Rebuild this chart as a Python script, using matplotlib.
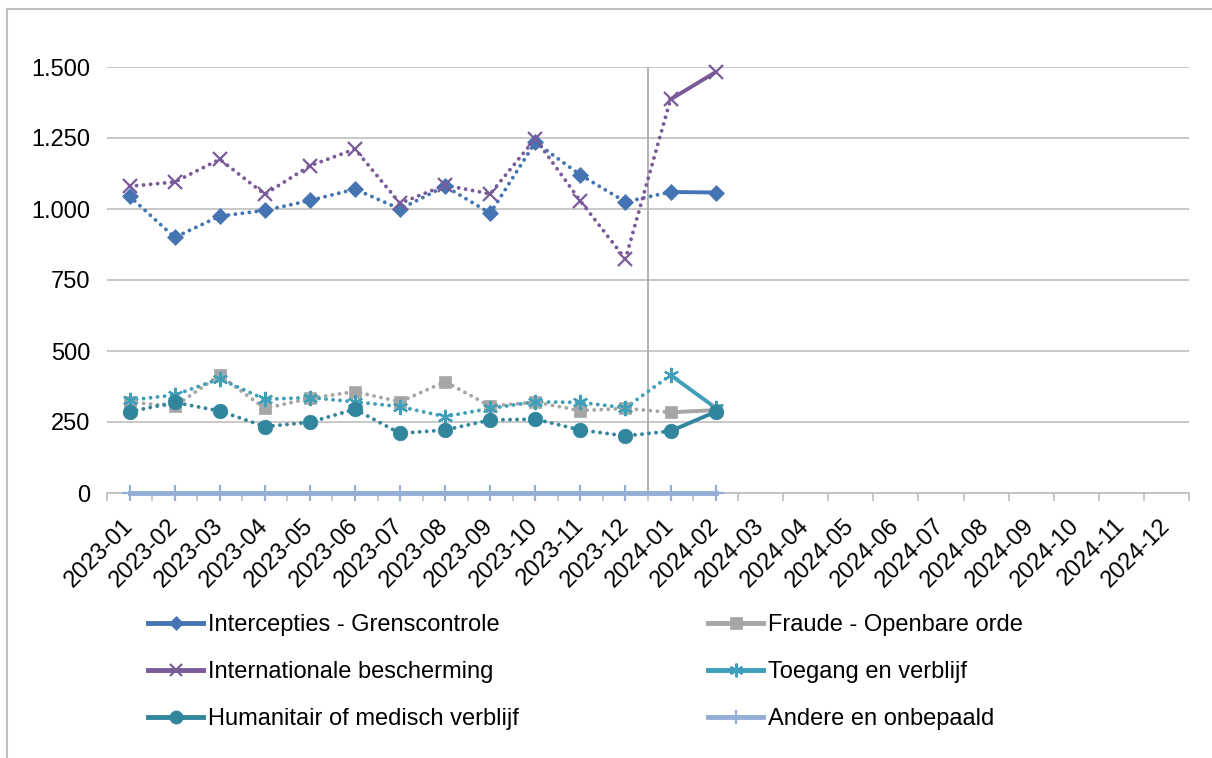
import matplotlib
matplotlib.use("Agg")
import matplotlib.pyplot as plt
from matplotlib.lines import Line2D
from matplotlib.ticker import FuncFormatter, FixedLocator
from matplotlib.transforms import ScaledTranslation
import numpy as np

plt.rcParams["font.family"] = ["Liberation Sans", "DejaVu Sans"]

months = [f"{y}-{m:02d}" for y in (2023, 2024) for m in range(1, 13)]

intercepties = [1045, 900, 975, 995, 1030, 1070, 1000, 1080, 985, 1235, 1120, 1025, 1060, 1058]
fraude = [320, 305, 415, 298, 333, 357, 321, 392, 306, 320, 290, 298, 284, 292]
internationale = [1080, 1095, 1175, 1052, 1152, 1211, 1020, 1084, 1053, 1248, 1028, 824, 1386, 1482]
toegang = [327, 345, 402, 330, 336, 321, 304, 269, 298, 321, 319, 300, 415, 300]
humanitair = [286, 319, 289, 234, 249, 295, 210, 222, 257, 260, 222, 201, 218, 286]
andere = [0] * 14

series = [
    ("Intercepties - Grenscontrole", intercepties, "#4474B2", "D", 8),
    ("Fraude - Openbare orde", fraude, "#A6A6A6", "s", 9),
    ("Internationale bescherming", internationale, "#7A5B9A", "x", 10),
    ("Toegang en verblijf", toegang, "#3F9FB8", (6, 2, 0), 11),
    ("Humanitair of medisch verblijf", humanitair, "#31859C", "o", 10.5),
    ("Andere en onbepaald", andere, "#95AED7", "+", 11),
]

fig = plt.figure(figsize=(12.12, 7.58), dpi=100)
ax = fig.add_axes([107 / 1212, 1 - 493 / 758, (1189 - 107) / 1212, (493 - 67) / 758])

x = np.arange(len(intercepties))
handles = []
for name, vals, col, mk, ms in series:
    vals = np.array(vals, dtype=float)
    if name.startswith("Andere"):
        ax.plot(x, vals, "-", color=col, lw=3.5, zorder=3, clip_on=False)
    else:
        # 2023 dotted, 2024 solid
        ax.plot(x[:13], vals[:13], color=col, lw=2.8, linestyle=(0, (0.01, 1.8)),
                dash_capstyle="round", zorder=3)
        ax.plot(x[12:], vals[12:], "-", color=col, lw=2.8, zorder=3)
    mew = 1.6 if mk in ("x", "+") or isinstance(mk, tuple) else 0.5
    ax.plot(x, vals, linestyle="none", marker=mk, ms=ms, color=col, mec=col, mew=mew,
            zorder=4, clip_on=False)
    handles.append(Line2D([], [], color=col, lw=3.5, marker=mk, ms=ms * 0.9, mec=col, mew=mew))

ax.axvline(11.5, ymin=0, ymax=1, color="#A6A6A6", lw=1.2, zorder=1)

ax.set_xlim(-0.5, 23.5)
ax.set_ylim(0, 1500)
ax.set_yticks(np.arange(0, 1501, 250))
ax.yaxis.set_major_formatter(FuncFormatter(lambda v, p: f"{v:,.0f}".replace(",", ".")))
ax.set_xticks(np.arange(24))
ax.set_xticklabels(months, rotation=45, ha="right", va="center", rotation_mode="anchor")
shift = ScaledTranslation(-4 / 100, 0, fig.dpi_scale_trans)
for lab in ax.get_xticklabels():
    lab.set_transform(lab.get_transform() + shift)
ax.xaxis.set_minor_locator(FixedLocator(np.arange(-0.5, 24, 1)))
ax.tick_params(axis="x", which="major", length=0, pad=21, labelsize=17)
ax.tick_params(axis="x", which="minor", length=6, color="#BFBFBF", width=1.2)
ax.tick_params(axis="y", length=0, pad=12, labelsize=17)
ax.grid(axis="y", color="#BFBFBF", lw=1.2)
ax.set_axisbelow(True)
for s in ("top", "right", "left"):
    ax.spines[s].set_visible(False)
ax.spines["bottom"].set_color("#BFBFBF")
ax.spines["bottom"].set_linewidth(1.2)

# legend filled row by row, two columns
order = [0, 2, 4, 1, 3, 5]
fig.legend([handles[i] for i in order], [series[i][0] for i in order], ncol=2, loc="upper left",
           bbox_to_anchor=(148 / 1212, 1 - 614 / 758), frameon=False, fontsize=17,
           borderpad=0, borderaxespad=0, handlelength=2.35, handletextpad=0.2,
           columnspacing=8.0, labelspacing=1.06)

# chart border (left and top visible)
fig.add_artist(Line2D([7 / 1212, 7 / 1212, 1.0], [0.0, 1 - 9 / 758, 1 - 9 / 758],
                      transform=fig.transFigure, color="#BFBFBF", lw=1.5))

fig.savefig("out.png", dpi=100)
